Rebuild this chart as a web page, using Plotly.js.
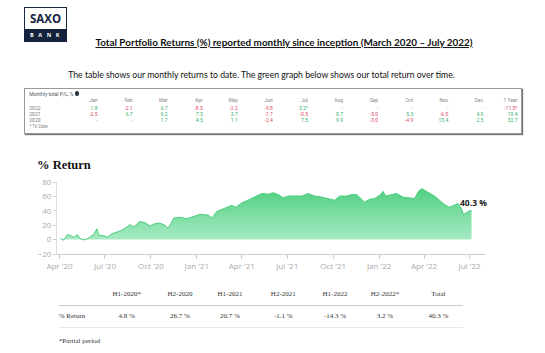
<!DOCTYPE html>
<html><head><meta charset="utf-8">
<script src="https://cdn.plot.ly/plotly-3.0.1.min.js"></script>
<style>
html,body{margin:0;padding:0;background:#fff;width:545px;height:353px;overflow:hidden;}
.t{position:absolute;white-space:nowrap;line-height:1;}
#chart{position:absolute;left:0;top:0;width:545px;height:353px;}
</style></head>
<body>
<div id="chart"></div>
<div id="doc"></div>
<script>
// ---- chart data (cumulative % return) ----
const dates = ['2020-04-03','2020-04-09','2020-04-17','2020-04-24','2020-04-30','2020-05-07','2020-05-12','2020-05-22','2020-05-31','2020-06-08','2020-06-15','2020-06-19','2020-07-01','2020-07-06','2020-07-15','2020-07-25','2020-08-04','2020-08-14','2020-08-20','2020-08-26','2020-09-01','2020-09-08','2020-09-19','2020-09-29','2020-10-09','2020-10-18','2020-10-29','2020-11-04','2020-11-10','2020-11-16','2020-11-28','2020-12-12','2020-12-28','2021-01-07','2021-01-24','2021-01-31','2021-02-10','2021-02-26','2021-03-12','2021-03-20','2021-04-01','2021-04-14','2021-04-27','2021-05-11','2021-05-24','2021-06-03','2021-06-13','2021-06-23','2021-07-03','2021-07-16','2021-07-30','2021-08-12','2021-08-25','2021-09-08','2021-09-24','2021-10-04','2021-10-14','2021-10-28','2021-11-07','2021-11-17','2021-11-27','2021-12-03','2021-12-13','2021-12-23','2022-01-02','2022-01-09','2022-01-14','2022-01-26','2022-02-05','2022-02-18','2022-03-03','2022-03-13','2022-03-20','2022-03-27','2022-04-02','2022-04-12','2022-04-22','2022-05-02','2022-05-12','2022-05-22','2022-06-01','2022-06-08','2022-06-15','2022-06-19','2022-06-25','2022-06-30','2022-07-05'];
const returns = [2,-1,7,5.5,3,7,1.4,-0.5,3,7,15,6,5,3.6,8,10.5,13,17.5,21,17.5,20,25,23.6,19,22,23,20,16,22,30,31,29,33,35,34,30,39,43,47.6,45,51,55,59,64,63,65,62.5,58,60.5,60.5,60.5,64,60.5,59,56,54.6,60.5,60.5,62.5,62.5,56,52,56,57,61.5,67,60.5,62.5,64,59,58,57,66,71,68.5,64,60.5,54.6,48.6,45,48.6,50,43,34.7,37.5,39.7,40.3];
const yTicks = [-20,0,20,40,60,80];
const endLabel = '40.3 %';

// ---- monthly table ----
const monthHeaders = ['Jan','Feb','Mar','Apr','May','Jun','Jul','Aug','Sep','Oct','Nov','Dec','1 Year'];
const tableYears = ['2022','2021','2020'];
const pl2022 = ['1.8','-2.1','6.7','-8.5','-2.2','-9.8','3.2*','-','-','-','-','-','-11.5*'];
const pl2021 = ['-2.5','6.7','6.2','7.3','3.7','-1.7','-0.5','0.7','-5.0','5.3','-6.0','4.9','19.4'];
const pl2020 = ['-','-','1.7','4.5','1.1','-2.4','7.5','9.9','-3.0','-4.9','13.4','2.5','32.7'];

// ---- period table ----
const periods = ['H1-2020*','H2-2020','H1-2021','H2-2021','H1-2022','H2-2022*','Total'];
const periodReturns = ['4.8 %','26.7 %','20.7 %','-1.1 %','-14.3 %','3.2 %','40.3 %'];

const doc = document.getElementById('doc');
function put(text, x, y, align, style){
  const e = document.createElement('div');
  e.className='t';
  e.textContent = text;
  e.style.left = x+'px'; e.style.top = y+'px';
  const tx = align==='c' ? '-50%' : (align==='r' ? '-100%' : '0');
  e.style.transform = 'translate('+tx+',-50%)';
  Object.assign(e.style, style||{});
  doc.appendChild(e);
  return e;
}
function fitW(e, w){
  const cur = e.getBoundingClientRect().width;
  const fs = parseFloat(e.style.fontSize);
  e.style.fontSize = (fs*w/cur)+'px';
}
function box(x,y,w,h,style){
  const e=document.createElement('div');
  e.style.position='absolute';
  e.style.left=x+'px';e.style.top=y+'px';e.style.width=w+'px';e.style.height=h+'px';
  Object.assign(e.style, style||{});
  doc.appendChild(e); return e;
}

// Logo
box(24,7,43,35,{border:'1px solid #1b2a44',background:'#fff',boxSizing:'border-box'});
box(24,29,43,13,{background:'#14223c'});
put('SAXO',45.5,18.5,'c',{fontFamily:'Open Sans',fontWeight:'700',fontSize:'11.5px',color:'#14223c'});
put('B A N K',45.5,35.5,'c',{fontFamily:'Open Sans',fontWeight:'700',fontSize:'5.5px',color:'#fff',letterSpacing:'1.6px'});

// Title
const tt = put('Total Portfolio Returns (%) reported monthly since inception (March 2020 \u2013 July 2022)',284,42.5,'c',{fontFamily:'Lato',fontWeight:'700',fontSize:'9px',color:'#111',textDecoration:'underline'});
fitW(tt,378);
const st = put('The table shows our monthly returns to date. The green graph below shows our total return over time.',261.5,75,'c',{fontFamily:'Lato',fontSize:'9px',color:'#111'});
fitW(st,387);

// Monthly table
box(24,88,498,46,{border:'1px solid #999',boxSizing:'border-box',boxShadow:'1px 1px 1px #777'});
put('Monthly total P/L, %',29.3,93.5,'l',{fontFamily:'Roboto',fontSize:'5px',color:'#555'});
box(74.5,91.3,4.5,4.5,{background:'#2a3240',borderRadius:'50%'});
const colRight = i => i < 12 ? 97.5 + 35.08*i : 517.5;
const small = {fontFamily:'Roboto',fontSize:'5px'};
monthHeaders.forEach((m,i)=>put(m,colRight(i),100.2,'r',Object.assign({color:'#888'},small)));
const rows=[pl2022,pl2021,pl2020], rowY=[107.5,114,120.3];
rows.forEach((r,j)=>{
  put(tableYears[j],29.3,rowY[j],'l',Object.assign({color:'#777'},small));
  r.forEach((v,i)=>{
    const col = v==='-' ? '#999' : (v.charAt(0)==='-' ? '#e0455f' : '#33b068');
    put(v,colRight(i),rowY[j],'r',Object.assign({color:col},small));
  });
});
put('* To Date',29.3,126.7,'l',{fontFamily:'Roboto',fontSize:'4.5px',color:'#888'});

// Chart title
put('% Return',37,165,'l',{fontFamily:'Liberation Serif',fontWeight:'700',fontSize:'12.5px',color:'#111'});

// Period table
const serif = {fontFamily:'Liberation Serif',fontSize:'7px',color:'#333'};
const pcol = [126.7,180,230,283.3,335,385,438.3];
periods.forEach((p,i)=>put(p,pcol[i],294,'c',serif));
box(58.7,304.5,404.6,1.5,{background:'#ccc'});
put('% Return',58.7,316,'l',serif);
periodReturns.forEach((v,i)=>put(v,pcol[i],316,'c',serif));
box(58.7,327,404.6,1,{background:'#e8e8e8'});
put('*Partial period',58.7,340.7,'l',serif);

// Plotly chart
const trace = {
  x: dates, y: returns, type:'scatter', mode:'lines',
  line:{color:'#4ccd7e',width:1},
  fill:'tozeroy',
  fillgradient:{type:'vertical',start:0,stop:70,colorscale:[[0,'#a6eac2'],[1,'#52d083']]},
  hoverinfo:'skip'
};
const layout = {
  width:545,height:353,
  margin:{l:57,r:60,t:182,b:99},
  paper_bgcolor:'rgba(0,0,0,0)',plot_bgcolor:'rgba(0,0,0,0)',
  showlegend:false,
  font:{family:'Open Sans',size:8,color:'#aaa'},
  xaxis:{type:'date',range:['2020-03-27','2022-08-01'],tick0:'2020-04-01',dtick:'M3',tickformat:"%b '%y",
    showgrid:false,zeroline:false,showline:true,linecolor:'#ccc',linewidth:1,ticks:'outside',ticklen:4,tickcolor:'#ccc',
    tickfont:{family:'Open Sans',size:8,color:'#aaa'}},
  yaxis:{range:[-20,80],tickvals:yTicks,showgrid:false,zeroline:false,showline:true,linecolor:'#ddd',linewidth:1,
    ticks:'outside',ticklen:3,tickcolor:'#ccc',tickfont:{family:'Open Sans',size:8,color:'#aaa'}},
  annotations:[{x:dates[dates.length-1],y:returns[returns.length-1],text:endLabel,showarrow:false,xanchor:'center',yanchor:'middle',
    xshift:2,yshift:8,font:{family:'Open Sans',size:8.5,color:'#222',weight:700}}]
};
Plotly.newPlot('chart',[trace],layout,{displayModeBar:false,staticPlot:true});
</script>
</body></html>
